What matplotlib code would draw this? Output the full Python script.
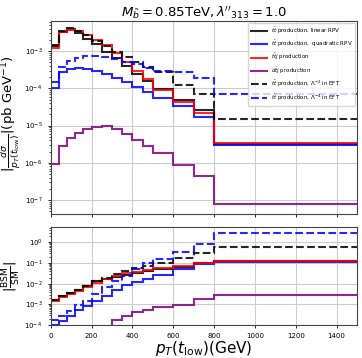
import numpy as np
import matplotlib
matplotlib.use('Agg')
import matplotlib.pyplot as plt

# bin edges in pT(t_low) [GeV]
edges = [0, 40, 80, 120, 160, 200, 250, 300, 350, 400, 450, 500, 600, 700, 800, 1500]

# |dsigma/dpT| in pb/GeV
tt_lin = [1.45e-3, 3.3e-3, 3.9e-3, 3.1e-3, 2.2e-3, 1.55e-3, 9.6e-4, 6.6e-4, 4.0e-4, 2.5e-4,
          1.55e-4, 9.5e-5, 4.8e-5, 2.6e-5, 3.2e-6]
tt_quad = [1.0e-4, 2.8e-4, 3.4e-4, 3.6e-4, 3.4e-4, 3.0e-4, 2.5e-4, 1.95e-4, 1.5e-4, 1.1e-4,
           8.1e-5, 5.6e-5, 3.4e-5, 1.7e-5, 3.0e-6]
ttj = [1.23e-3, 3.2e-3, 3.7e-3, 3.45e-3, 2.7e-3, 2.05e-3, 1.45e-3, 9.0e-4, 5.2e-4, 3.0e-4,
       1.75e-4, 9.3e-5, 4.4e-5, 2.25e-5, 3.3e-6]
dtj = [9.1e-7, 2.8e-6, 4.5e-6, 6.3e-6, 7.9e-6, 9.3e-6, 9.6e-6, 8.3e-6, 6.1e-6, 4.2e-6,
       2.9e-6, 1.8e-6, 8.9e-7, 4.4e-7, 7.6e-8]
eft2 = [1.4e-3, 3.5e-3, 4.1e-3, 3.5e-3, 2.7e-3, 1.9e-3, 1.35e-3, 9.8e-4, 7.0e-4, 5.2e-4,
        3.8e-4, 2.7e-4, 1.25e-4, 7.0e-5, 1.5e-5]
eft4 = [1.5e-4, 3.8e-4, 5.5e-4, 6.7e-4, 7.3e-4, 7.3e-4, 6.8e-4, 6.0e-4, 5.2e-4, 4.5e-4,
        3.6e-4, 2.9e-4, 2.7e-4, 1.9e-4, 6.9e-5]

# |BSM/SM|
r_tt_lin = [1.7e-3, 2.5e-3, 3.4e-3, 4.9e-3, 7.5e-3, 1.3e-2, 1.65e-2, 2.2e-2, 2.8e-2, 3.5e-2,
            4.3e-2, 5.3e-2, 6.8e-2, 1.0e-1, 1.3e-1]
r_tt_quad = [1.05e-4, 1.6e-4, 2.8e-4, 5.3e-4, 8.7e-4, 1.5e-3, 2.7e-3, 5.1e-3, 8.3e-3, 1.2e-2,
             1.75e-2, 2.8e-2, 5.4e-2, 8.7e-2, 1.15e-1]
r_ttj = [1.5e-3, 2.3e-3, 3.2e-3, 4.6e-3, 6.7e-3, 1.15e-2, 1.7e-2, 2.4e-2, 3.2e-2, 3.9e-2,
         4.7e-2, 5.5e-2, 7.0e-2, 1.0e-1, 1.32e-1]
r_dtj = [2e-5, 3e-5, 3.5e-5, 4e-5, 5e-5, 6e-5, 8e-5, 1.8e-4, 2.8e-4, 4.1e-4,
         5.3e-4, 7.5e-4, 9.0e-4, 1.9e-3, 3.0e-3]
r_eft2 = [1.7e-3, 2.6e-3, 3.6e-3, 5.2e-3, 8.0e-3, 1.3e-2, 2.0e-2, 2.9e-2, 4.0e-2, 5.5e-2,
          7.5e-2, 1.05e-1, 1.8e-1, 3.2e-1, 6.1e-1]
r_eft4 = [1.7e-4, 2.9e-4, 4.8e-4, 9.0e-4, 1.5e-3, 3.2e-3, 6.8e-3, 1.3e-2, 2.5e-2, 5.0e-2,
          1.0e-1, 1.65e-1, 3.6e-1, 8.5e-1, 3.0]

labels = [r'$t\bar{t}$ production, linear RPV',
          r'$t\bar{t}$ production,  quadratic RPV',
          r'$t\bar{t}j$ production',
          r'$d\bar{t}j$ production',
          r'$t\bar{t}$ production, $\Lambda^{-2}$ in EFT',
          r'$t\bar{t}$ production, $\Lambda^{-4}$ in EFT']
colors = ['black', 'blue', 'red', 'purple', 'black', 'blue']
styles = ['-', '-', '-', '-', '--', '--']

top_sets = [tt_lin, tt_quad, ttj, dtj, eft2, eft4]
ratio_sets = [r_tt_lin, r_tt_quad, r_ttj, r_dtj, r_eft2, r_eft4]

fig = plt.figure(figsize=(3.62, 3.58), dpi=100)
ax1 = fig.add_axes([0.140, 0.402, 0.846, 0.539])
ax2 = fig.add_axes([0.140, 0.092, 0.846, 0.273], sharex=ax1)

for vals, rvals, c, ls, lab in zip(top_sets, ratio_sets, colors, styles, labels):
  ax1.stairs(vals, edges, color=c, linestyle=ls, linewidth=1.5, alpha=0.85, baseline=None, label=lab)
  ax2.stairs(rvals, edges, color=c, linestyle=ls, linewidth=1.5, alpha=0.85, baseline=None)

for ax in (ax1, ax2):
  ax.set_yscale('log')
  ax.grid(True, color='#cccccc', linewidth=0.8)
  ax.set_axisbelow(True)
  ax.tick_params(labelsize=5, length=2.5, width=0.6)
  ax.tick_params(which='minor', length=1.5, width=0.5)
  for s in ax.spines.values():
    s.set_color('#444444')
    s.set_linewidth(0.8)

ax1.set_xlim(0, 1500)
ax1.set_ylim(10**-7.38, 10**-2.19)
ax2.set_ylim(1e-4, 5.4)
ax1.set_xticks(np.arange(0, 1500, 200))
plt.setp(ax1.get_xticklabels(), visible=False)
ax2.set_yticks([1e-4, 1e-3, 1e-2, 1e-1, 1e0])

ax1.set_title(r"$M_{\tilde{b}}=0.85$TeV$,\lambda''_{313}=1.0$", fontsize=9.5, pad=3)
ax1.set_ylabel(r'$|\frac{d\sigma}{p_T(t_{\rm low})}|$(pb GeV$^{-1}$)', fontsize=9.5)
ax2.set_ylabel(r'$|\frac{\rm BSM}{\rm SM}|$', fontsize=9.5)
ax2.set_xlabel(r'$p_T(t_{\rm low})$(GeV)', fontsize=11, labelpad=0)
ax1.yaxis.set_label_coords(-0.092, 0.52)
ax2.yaxis.set_label_coords(-0.092, 0.5)

ax1.legend(loc='upper right', fontsize=4.0, handlelength=3.0, handletextpad=0.6, borderpad=0.5,
           labelspacing=0.6, framealpha=0.8, fancybox=True, borderaxespad=0.3)

fig.savefig('out.png', dpi=100)
